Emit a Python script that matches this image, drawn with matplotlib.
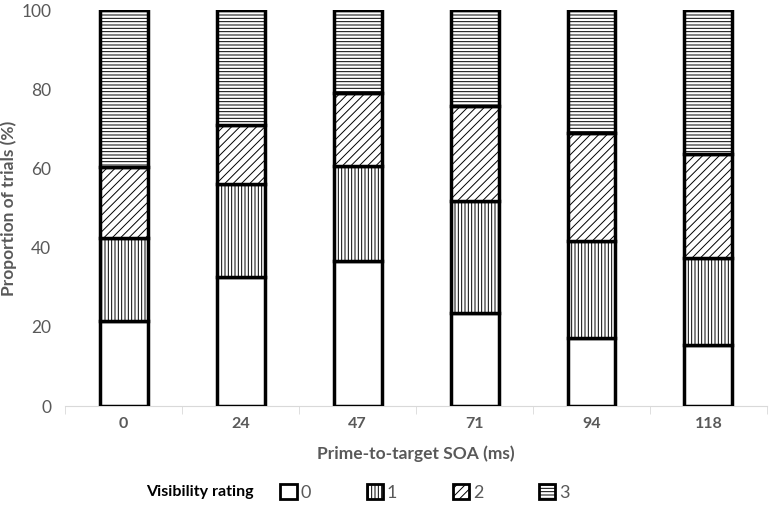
import matplotlib
matplotlib.use('Agg')
import matplotlib.pyplot as plt
import numpy as np
from matplotlib.patches import Patch

# visibility ratings per SOA (percent of trials)
soas = ['0', '24', '47', '71', '94', '118']
rating0 = [21.5, 32.5, 36.7, 23.5, 17.3, 15.5]
rating1 = [21.0, 23.5, 23.9, 28.2, 24.5, 22.0]
rating2 = [17.8, 15.0, 18.4, 24.1, 27.2, 26.2]
rating3 = [39.7, 29.0, 21.0, 24.2, 31.0, 36.3]
rating_labels = ['0', '1', '2', '3']

plt.rcParams['font.family'] = ['Lato', 'DejaVu Sans']
plt.rcParams['hatch.linewidth'] = 0.7
plt.rcParams['hatch.color'] = 'black'

fig = plt.figure(figsize=(7.77, 5.05), dpi=100)
ax = fig.add_axes([0.084, 0.196, 0.903, 0.784])

x = np.arange(len(soas))
series = [rating0, rating1, rating2, rating3]
hatches = ['', '|||||', '////', '-----']
bottom = np.zeros(len(soas))
for vals, h in zip(series, hatches):
    ax.bar(x, vals, width=0.41, bottom=bottom, color='white', edgecolor='black',
           linewidth=2.5, hatch=h, zorder=3)
    bottom += np.array(vals)

ax.set_xlim(-0.5, len(soas) - 0.5)
ax.set_ylim(0, 100)
ax.set_yticks(np.arange(0, 101, 20))
ax.set_xticks(x)
ax.set_xticklabels(soas, fontweight='bold', color='#595959', fontsize=11.5)
ax.tick_params(axis='y', length=0, labelcolor='#595959', labelsize=12.5, pad=10)
ax.tick_params(axis='x', length=0, pad=8)
# minor ticks between categories on the x axis
ax.set_xticks(np.arange(-0.5, len(soas)), minor=True)
ax.tick_params(axis='x', which='minor', length=6, color='#d9d9d9')

for s in ['top', 'right', 'left']:
    ax.spines[s].set_visible(False)
ax.spines['bottom'].set_color('#d9d9d9')

ax.set_xlabel('Prime-to-target SOA (ms)', fontweight='bold', color='#595959', fontsize=12.5, labelpad=10)
ax.set_ylabel('Proportion of trials (%)', fontweight='bold', color='#595959', fontsize=12.5, labelpad=3)

handles = [Patch(facecolor='white', edgecolor='black', linewidth=2, hatch=h) for h in hatches]
fig.text(0.188, 0.025, 'Visibility rating', fontweight='bold', color='black', fontsize=11.5, va='center')
fig.legend(handles, rating_labels, loc='center left', bbox_to_anchor=(0.34, 0.025), ncol=4,
           frameon=False, fontsize=13, handlelength=0.9, handleheight=0.9,
           columnspacing=3.1, handletextpad=0.2, labelcolor='#595959')

fig.savefig('out.png', dpi=100)
